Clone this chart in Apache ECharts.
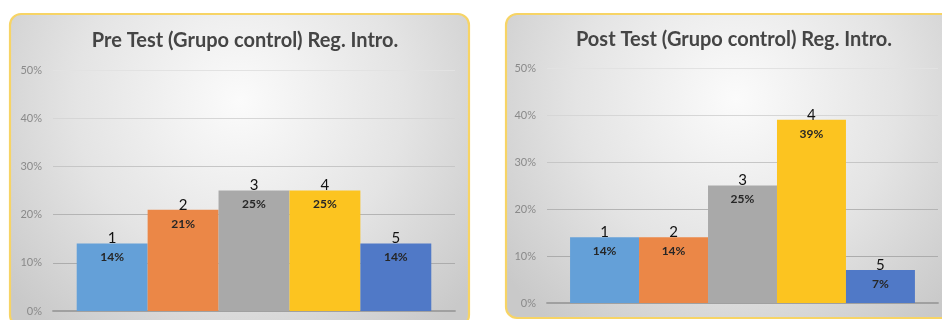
<!DOCTYPE html>
<html>
<head>
<meta charset="utf-8">
<script src="https://cdn.jsdelivr.net/npm/echarts@6/dist/echarts.min.js"></script>
<style>
html,body{margin:0;padding:0;background:#fff;}
#c{width:942px;height:320px;}
</style>
</head>
<body>
<div id="c"></div>
<script>
var categories = ['1', '2', '3', '4', '5'];
var preValues = [14, 21, 25, 25, 14];
var postValues = [14, 14, 25, 39, 7];
var titles = ['Pre Test (Grupo control) Reg. Intro.', 'Post Test (Grupo control) Reg. Intro.'];
var yTicks = [0, 10, 20, 30, 40, 50];

var colors = ['#64A0D8', '#EB8747', '#A9A9A9', '#FCC420', '#5079C7'];
var FONT = 'Lato, "Open Sans", sans-serif';

var chart = echarts.init(document.getElementById('c'));

function panelBg() {
  return {
    type: 'radial', x: 0.5, y: 0.28, r: 0.95,
    colorStops: [
      {offset: 0, color: '#fbfbfb'},
      {offset: 0.55, color: '#e4e4e4'},
      {offset: 1, color: '#c9c9c9'}
    ]
  };
}

function makeSeries(values, gridIdx) {
  return categories.map(function (name, i) {
    return {
      type: 'bar',
      name: name,
      xAxisIndex: gridIdx,
      yAxisIndex: gridIdx,
      data: [values[i]],
      barGap: '0%',
      barCategoryGap: '11.8%',
      itemStyle: {color: colors[i]},
      label: {
        show: true,
        position: 'top',
        distance: 0,
        offset: [0, 21],
        formatter: function () { return '{n|' + name + '}\n{v|' + values[i] + '%}'; },
        rich: {
          n: {fontFamily: FONT, fontSize: 15, color: '#111', lineHeight: 24, align: 'center'},
          v: {fontFamily: FONT, fontSize: 12, fontWeight: 'bold', color: '#262626', lineHeight: 14, align: 'center'}
        }
      }
    };
  });
}

function yAxis(gridIdx) {
  return {
    type: 'value', gridIndex: gridIdx, min: 0, max: 50, interval: 10,
    axisLine: {show: false}, axisTick: {show: false},
    axisLabel: {
      formatter: function (v) { return yTicks.indexOf(v) >= 0 ? v + '%' : ''; },
      color: '#8a8a8a', fontFamily: FONT, fontSize: 11, margin: 11
    },
    splitLine: {lineStyle: {color: ['#a8a8a8', '#acacac', '#b4b4b4', '#c6c6c6', '#d6d6d6', '#e2e2e2'], width: 1.2}}
  };
}

function xAxis(gridIdx) {
  return {
    type: 'category', gridIndex: gridIdx, data: [''],
    axisTick: {show: false}, axisLabel: {show: false},
    axisLine: {lineStyle: {color: '#a0a0a0', width: 1.8}}
  };
}

chart.setOption({
  animation: false,
  graphic: [
    {type: 'rect', z: -10, shape: {x: 10, y: 14, width: 459, height: 312, r: 11},
     style: {fill: panelBg(), stroke: '#F7D465', lineWidth: 2.2}},
    {type: 'rect', z: -10, shape: {x: 506, y: 14, width: 460, height: 304, r: 11},
     style: {fill: panelBg(), stroke: '#F7D465', lineWidth: 2.2}}
  ],
  title: [
    {text: titles[0], left: 240, top: 26, textAlign: 'center',
     textStyle: {fontFamily: FONT, fontSize: 20, fontWeight: 'bold', color: '#454545'}},
    {text: titles[1], left: 729, top: 25, textAlign: 'center',
     textStyle: {fontFamily: FONT, fontSize: 20, fontWeight: 'bold', color: '#454545'}}
  ],
  grid: [
    {left: 53, top: 70, width: 402, height: 241},
    {left: 547, top: 68, width: 391, height: 235}
  ],
  xAxis: [xAxis(0), xAxis(1)],
  yAxis: [yAxis(0), yAxis(1)],
  series: makeSeries(preValues, 0).concat(makeSeries(postValues, 1))
});
</script>
</body>
</html>
